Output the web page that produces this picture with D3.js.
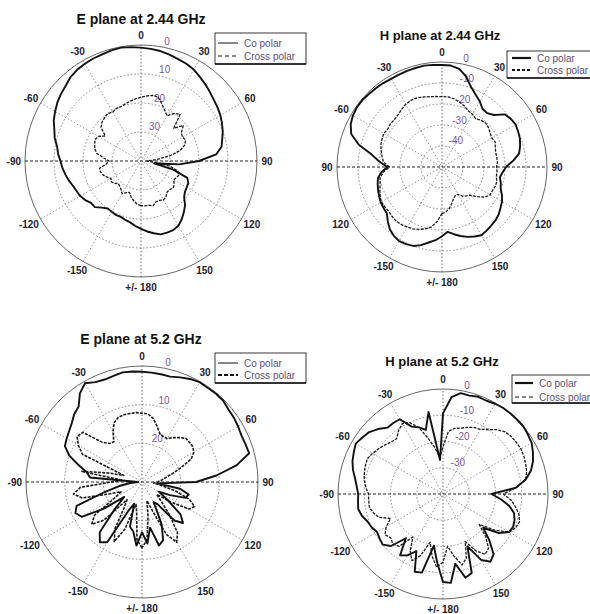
<!DOCTYPE html>
<html><head><meta charset="utf-8">
<script src="https://cdn.jsdelivr.net/npm/d3@7"></script>
<style>body{margin:0;background:#fff} svg{display:block}</style>
</head><body><svg id="chart" width="590" height="614"></svg>
<script>
// ---------------- data ----------------
const ANGLES = d3.range(-180, 180, 5); // -180 ... 175 deg, step 5
const ANGLE_TICKS = [0, 30, 60, 90, 120, 150, 180, -150, -120, -90, -60, -30];
const ANGLE_LABELS = ["0", "30", "60", "90", "120", "150", "+/- 180", "-150", "-120", "-90", "-60", "-30"];
const ANGLE_LABELS_H244 = ["0", "30", "60", "90", "120", "150", "+/- 180", "-150", "120", "90", "-60", "-30"];

const TITLES = ["E plane at 2.44 GHz", "H plane at 2.44 GHz", "E plane at 5.2 GHz", "H plane at 5.2 GHz"];
const SERIES_NAMES = ["Co polar", "Cross polar"];

const RING_VALUES_E244 = [0, -10, -20, -30];
const RING_LABELS_E244 = ["0", "10", "20", "30"];
const RING_VALUES_H244 = [0, -10, -20, -30, -40];
const RING_LABELS_H244 = ["0", "-10", "-20", "-30", "-40"];
const RING_VALUES_E52 = [0, -10, -20];
const RING_LABELS_E52 = ["0", "10", "20"];
const RING_VALUES_H52 = [0, -10, -20, -30];
const RING_LABELS_H52 = ["0", "-10", "-20", "-30"];

// normalised gain in dB, one value per angle in ANGLES (-180 ... 175)
const E244_CO = [-16.6,-17.5,-18.5,-19,-19.5,-19.5,-19.8,-20,-19,-17.5,-17.5,-16.5,-15.8,-15.5,-15,-14.2,-13.5,-12.8,-12.2,-11.3,-10.6,-9.2,-8.2,-6.8,-5.8,-4.8,-4,-3.3,-2.2,-1.6,-1.3,-1,-0.9,-0.5,-0.3,-0.6,
  -0.9,-1.2,-1.5,-2,-2.6,-3,-3.6,-4.6,-5.5,-6.4,-7.2,-7.8,-8.4,-9.2,-10,-11,-11.8,-14,-20,-26.8,-35.4,-28.5,-23,-22,-21.8,-21.5,-20.6,-18.5,-17,-15.5,-14.2,-13.7,-13.7,-13.8,-14.7,-15.6];
const E244_X = [-24.6,-25,-26,-27,-28.5,-28,-27,-28,-28.6,-29,-28,-27.5,-28,-27,-26,-25.5,-25.5,-28,-29,-27,-24.5,-23.5,-23,-22.5,-23,-25,-22,-21,-20.5,-20,-20.5,-20,-20,-19.5,-19,-18.5,
  -18,-17.5,-17,-17.2,-19,-20.7,-22,-20,-19,-24,-21,-23,-23.5,-23,-24,-26,-30,-35,-38,-36,-30,-27,-26,-26.5,-27,-26,-25.5,-26,-26,-25,-24.5,-25,-25,-24,-24.5,-24.5];

const H244_CO = [-17,-15,-13.5,-11.5,-10,-9.5,-9.2,-10,-11.3,-13.5,-15.7,-16,-16.3,-17,-17.6,-18.3,-19,-21,-24,-20,-16,-9,-4,-2,-1,-0.5,-0.5,-0.8,-1,-1.2,-1.5,-1.5,-1.3,-1.2,-1,-1.2,
  -1.4,-1.5,-2.5,-5.5,-9.5,-12,-14,-16.3,-16.5,-15,-11,-10,-9.5,-10,-10.5,-11.5,-12.7,-16,-19.5,-21,-22,-21,-20.3,-18.5,-17,-16,-14.8,-14,-13.6,-13,-12.5,-13.5,-14.6,-16,-17.5,-19];
const H244_X = [-27.8,-24,-21,-19.5,-18.4,-17.5,-17,-16.5,-16.2,-16.5,-17,-16.8,-16.7,-17.5,-18.5,-19.5,-20,-22,-25,-22,-21,-20,-19,-18.5,-18,-18.5,-18,-18,-17.5,-16.5,-15.5,-15,-15,-15.5,-16,-16.3,
  -16.5,-16.5,-17,-18,-19,-20.5,-21,-22,-21,-20.5,-21,-22,-22.5,-22,-23,-23.5,-23.5,-23.5,-24,-23.7,-23.7,-23,-23,-23.5,-23.5,-25,-28,-31,-32,-33,-35,-35,-34,-32,-30,-28.5];

const E52_CO = [-17,-13.5,-17,-18,-24,-22,-12,-11,-13,-20,-24,-18,-12,-11,-12,-20,-24,-27,-29,-16.5,-15.5,-13,-10,-8,-7.5,-7,-6.3,-5.2,-4.5,-2,-0.5,-1.5,-1.8,-1.6,-1.2,-1.3,
  -1.5,-1.6,-1.7,-1.8,-1.2,-0.6,-0.2,-0.3,-0.2,-0.3,-0.8,-1,-1.3,-1.6,-1.5,-1.3,-5.2,-10.7,-16,-26,-20,-17.5,-18,-22,-25,-22,-17,-15,-17,-23,-24,-18,-14,-13,-18,-14];
const E52_X = [-13,-15,-22,-24,-17,-13,-16,-22,-24,-16,-13,-15,-22,-24,-21,-14,-12,-14,-22,-25,-14,-21,-25,-13,-11,-9.5,-10,-15.5,-17,-17.3,-15,-13,-12.2,-12,-12,-12,
  -12.2,-12.3,-13.3,-15,-16.6,-17,-17,-16,-15,-14,-14,-14,-14.5,-16,-19.4,-22,-24,-25,-26,-27,-25,-21,-17,-15,-16,-21,-25,-23,-19,-14,-12,-15,-22,-25,-21,-15];

const H52_CO = [-6.5,-14,-20,-9,-8.5,-16,-13,-11.5,-18,-12,-10,-10.5,-11,-10,-9.4,-8,-7.2,-7.5,-7.7,-7,-6,-4.5,-3.3,-2.5,-1.6,-2.5,-3.3,-5,-7,-7,-7.1,-11.7,-13,-14.7,-8.3,-27,
  -9.3,-3,-1,-1.2,-0.6,-0.8,-0.3,0,0,0,0,-0.5,-1,-2.2,-3.5,-5.3,-8,-12,-21.5,-18,-14.4,-12,-11,-10.5,-11,-14,-20,-15,-10,-8.5,-11,-18,-8,-7,-13,-6];
const H52_X = [-14,-12,-16,-21,-15,-12,-15,-20,-14,-13,-14,-13,-15,-18,-14,-12.5,-11.5,-11.6,-11.6,-10.5,-9.5,-9,-8.5,-8.2,-9,-10,-11,-12,-12.5,-10.5,-9,-10,-13,-18,-22,-26,
  -22,-16,-14.6,-14,-13,-12,-11.6,-10,-8,-6.5,-6,-5.8,-5.7,-6,-6.5,-7,-8,-12,-17,-14,-12,-10,-9,-9.5,-11,-16,-22,-17,-13,-12,-15,-20,-14,-12,-16,-20];

// ---------------- layout ----------------
const panels = [
  {title: TITLES[0], tx: 141, ty: 24, tfs: 14, cx: 141, cy: 161, R: 116, min: -40,
   rings: RING_VALUES_E244, ringLabels: RING_LABELS_E244, angleLabels: ANGLE_LABELS,
   co: E244_CO, x: E244_X, coW: 1.9, xW: 1.3, xDash: "3,1.2",
   leg: {x: 215, y: 33, w: 91, h: 31, y1: 43, y2: 56, lx: 218, lw: 20, coW: 1, xW: 1, xDash: "4,3"}},
  {title: TITLES[1], tx: 440, ty: 40, tfs: 13, cx: 442, cy: 167, R: 105, min: -50,
   rings: RING_VALUES_H244, ringLabels: RING_LABELS_H244, angleLabels: ANGLE_LABELS_H244,
   co: H244_CO, x: H244_X, coW: 1.9, xW: 1.3, xDash: "3,1.2",
   leg: {x: 507, y: 51, w: 84, h: 27, y1: 58, y2: 70, lx: 512, lw: 19, coW: 2.2, xW: 2.2, xDash: "3,2"}},
  {title: TITLES[2], tx: 141, ty: 344, tfs: 14, cx: 142, cy: 482, R: 116, min: -30,
   rings: RING_VALUES_E52, ringLabels: RING_LABELS_E52, angleLabels: ANGLE_LABELS,
   co: E52_CO, x: E52_X, coW: 1.9, xW: 1.6, xDash: "3,1.2",
   leg: {x: 215, y: 353, w: 91, h: 30, y1: 363, y2: 375, lx: 218, lw: 20, coW: 1, xW: 2, xDash: "4,2"}},
  {title: TITLES[3], tx: 442, ty: 366, tfs: 13, cx: 443, cy: 494, R: 105, min: -40,
   rings: RING_VALUES_H52, ringLabels: RING_LABELS_H52, angleLabels: ANGLE_LABELS,
   co: H52_CO, x: H52_X, coW: 1.9, xW: 1.3, xDash: "3,1.2",
   leg: {x: 512, y: 375, w: 79, h: 28, y1: 383, y2: 397, lx: 515, lw: 18, coW: 2.2, xW: 1, xDash: "4,3"}}
];

const svg = d3.select("#chart");
const FONT = "'Liberation Sans', Arial, Helvetica, sans-serif";
const rad = d => d * Math.PI / 180;

panels.forEach(p => {
  const g = svg.append("g").attr("transform", `translate(${p.cx},${p.cy})`);
  const r = d3.scaleLinear().domain([p.min, 0]).range([0, p.R]).clamp(true);

  // inner dotted rings
  g.selectAll("circle.ring").data(p.rings.filter(v => v < 0)).join("circle")
    .attr("r", d => r(d)).attr("fill", "none")
    .attr("stroke", "#777").attr("stroke-width", 0.9).attr("stroke-dasharray", "1.5,2");
  // outer ring
  g.append("circle").attr("r", r(0)).attr("fill", "none")
    .attr("stroke", "#555").attr("stroke-width", 0.9);

  // spokes
  const spokes = [0, 30, 60, 90, 120, 150];
  spokes.forEach(a => {
    const t = rad(a);
    const x = Math.sin(t) * p.R, y = -Math.cos(t) * p.R;
    const horiz = a === 90;
    g.append("line").attr("x1", -x).attr("y1", -y).attr("x2", x).attr("y2", y)
      .attr("stroke", horiz ? "#222" : (a === 0 ? "#555" : "#888"))
      .attr("stroke-width", horiz ? 1 : 0.9)
      .attr("stroke-dasharray", horiz ? "3,2" : "1.5,2");
  });

  // angle labels
  ANGLE_TICKS.forEach((a, i) => {
    const t = rad(a);
    const rr = p.R + 10;
    const txt = g.append("text")
      .attr("font-family", FONT).attr("font-weight", "bold").attr("font-size", 10)
      .attr("fill", "#1c1c2c").attr("text-anchor", "middle").attr("dominant-baseline", "central")
      .text(p.angleLabels[i]);
    const w = txt.node().getComputedTextLength();
    const extra = Math.max(0, w / 2 - 6) * Math.abs(Math.sin(t));
    txt.attr("x", Math.sin(t) * (rr + extra)).attr("y", -Math.cos(t) * rr);
  });

  // radial labels
  p.rings.forEach((v, i) => {
    const rr = r(v);
    const t = rad(10);
    g.append("text").attr("font-family", FONT).attr("font-size", 10)
      .attr("fill", "#7a579c")
      .attr("x", Math.sin(t) * rr + 3).attr("y", -Math.cos(t) * rr - 2)
      .text(p.ringLabels[i]);
  });

  // curves
  const line = d3.lineRadial()
    .angle(d => rad(d[0])).radius(d => r(d[1]))
    .curve(d3.curveLinearClosed);
  g.append("path").datum(ANGLES.map((a, i) => [a, p.x[i]]))
    .attr("d", line).attr("fill", "none").attr("stroke", "#1a1a1a")
    .attr("stroke-width", p.xW).attr("stroke-dasharray", p.xDash).attr("stroke-linejoin", "round");
  g.append("path").datum(ANGLES.map((a, i) => [a, p.co[i]]))
    .attr("d", line).attr("fill", "none").attr("stroke", "#111")
    .attr("stroke-width", p.coW).attr("stroke-linejoin", "round");

  // title
  svg.append("text").attr("x", p.tx).attr("y", p.ty)
    .attr("font-family", FONT).attr("font-weight", "bold").attr("font-size", p.tfs)
    .attr("text-anchor", "middle").attr("fill", "#111").text(p.title);

  // legend
  const L = p.leg;
  const lg = svg.append("g");
  lg.append("rect").attr("x", L.x).attr("y", L.y).attr("width", L.w).attr("height", L.h)
    .attr("fill", "#fff").attr("stroke", "#222").attr("stroke-width", 0.9);
  lg.append("line").attr("x1", L.x).attr("x2", L.x + L.w).attr("y1", L.y + L.h).attr("y2", L.y + L.h)
    .attr("stroke", "#111").attr("stroke-width", 1.6);
  [[L.y1, L.coW, null], [L.y2, L.xW, L.xDash]].forEach((s, i) => {
    lg.append("line").attr("x1", L.lx).attr("x2", L.lx + L.lw).attr("y1", s[0]).attr("y2", s[0])
      .attr("stroke", "#111").attr("stroke-width", s[1]).attr("stroke-dasharray", s[2]);
    lg.append("text").attr("x", L.lx + L.lw + 6).attr("y", s[0]).attr("dominant-baseline", "central")
      .attr("font-family", FONT).attr("font-size", 10).attr("fill", "#5e4e70")
      .text(SERIES_NAMES[i]);
  });
});
</script>
</body></html>
